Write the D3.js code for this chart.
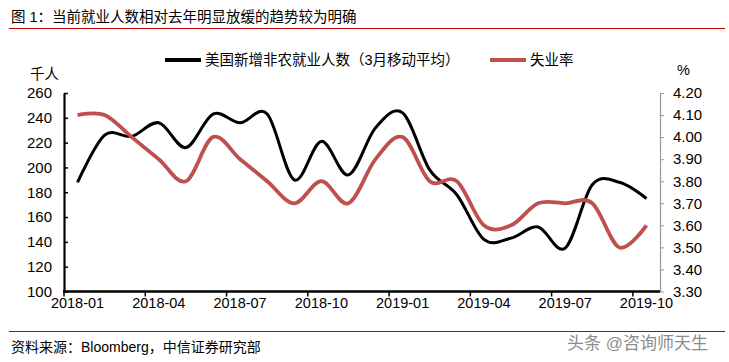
<!DOCTYPE html>
<html>
<head>
<meta charset="utf-8">
<script src="https://cdn.jsdelivr.net/npm/d3@7"></script>
<style>
  body { margin: 0; background: #fff; }
  svg text { font-family: "Liberation Sans", Arial, "Noto Sans CJK SC", sans-serif; fill: #000; }
</style>
</head>
<body>
<div id="chart"></div>
<script>
// monthly categories 2018-01 .. 2019-10
var months = ["2018-01","2018-02","2018-03","2018-04","2018-05","2018-06","2018-07","2018-08",
  "2018-09","2018-10","2018-11","2018-12","2019-01","2019-02","2019-03","2019-04","2019-05",
  "2019-06","2019-07","2019-08","2019-09","2019-10"];
var tickMonths = ["2018-01","2018-04","2018-07","2018-10","2019-01","2019-04","2019-07","2019-10"];

// 美国新增非农就业人数（3月移动平均），千人
var payrolls = [188, 226, 225, 236, 216, 243, 236, 243, 190, 221, 194, 232, 244, 198, 178, 142, 143, 152, 135, 186, 188, 175];
// 失业率, %
var unemp = [4.1, 4.1, 4.0, 3.9, 3.8, 4.0, 3.9, 3.8, 3.7, 3.8, 3.7, 3.9, 4.0, 3.8, 3.8, 3.6, 3.6, 3.7, 3.7, 3.7, 3.5, 3.6];

var leftTicks = [100,120,140,160,180,200,220,240,260];
var rightTicks = [3.3,3.4,3.5,3.6,3.7,3.8,3.9,4.0,4.1,4.2];

var W = 729, H = 362;
var plot = {left: 64, right: 660, top: 93, bottom: 291.5};

var svg = d3.select("#chart").append("svg")
    .attr("width", W)
    .attr("height", H);

// title + red rules
svg.append("text")
    .attr("x", 11).attr("y", 22)
    .style("font-size", "14.5px")
    .text("图 1：当前就业人数相对去年明显放缓的趋势较为明确");
svg.append("line")
    .attr("x1", 9).attr("x2", 725).attr("y1", 28.5).attr("y2", 28.5)
    .attr("stroke", "#c00000").attr("stroke-width", 1);
svg.append("line")
    .attr("x1", 9).attr("x2", 725).attr("y1", 331.5).attr("y2", 331.5)
    .attr("stroke", "#c00000").attr("stroke-width", 1);
svg.append("text")
    .attr("x", 11).attr("y", 352)
    .style("font-size", "14px")
    .text("资料来源：Bloomberg，中信证券研究部");
svg.append("text")
    .attr("x", 567).attr("y", 349)
    .style("font-size", "17px")
    .style("fill", "#8c8c8c")
    .text("头条 @咨询师天生");

var x = d3.scaleBand().domain(months).range([plot.left, plot.right]);
var yL = d3.scaleLinear().domain([100, 260]).range([plot.bottom, plot.top]);
var yR = d3.scaleLinear().domain([3.3, 4.2]).range([plot.bottom, plot.top]);

function cx(i) { return x(months[i]) + x.bandwidth() / 2; }

// left axis
var gL = svg.append("g")
    .attr("transform", "translate(" + plot.left + ",0)")
    .call(d3.axisLeft(yL).tickValues(leftTicks).tickSizeInner(-4).tickSizeOuter(0).tickPadding(12));
gL.select(".domain").attr("stroke", "#000").attr("stroke-width", 2.2);
gL.selectAll(".tick line").attr("stroke", "#000").attr("stroke-width", 1.5);
gL.selectAll(".tick text").style("font-size", "15px").style("font-family", null);

// right axis
var gR = svg.append("g")
    .attr("transform", "translate(" + plot.right + ",0)")
    .call(d3.axisRight(yR).tickValues(rightTicks).tickFormat(d3.format(".2f")).tickSizeInner(4).tickSizeOuter(0).tickPadding(9));
gR.select(".domain").attr("stroke", "#999").attr("stroke-width", 1.2);
gR.selectAll(".tick line").attr("stroke", "#999");
gR.selectAll(".tick text").style("font-size", "15px").style("font-family", null);

// unit labels
svg.append("text").attr("x", 30).attr("y", 79).style("font-size", "14.5px").text("千人");
svg.append("text").attr("x", 677).attr("y", 75).style("font-size", "14.5px").text("%");

// x axis: ticks at category boundaries, labels at category centres
var gX = svg.append("g");
gX.selectAll(".xt").data(tickMonths).enter().append("line")
    .attr("x1", function(d) { return x(d); })
    .attr("x2", function(d) { return x(d); })
    .attr("y1", plot.bottom).attr("y2", plot.bottom + 5)
    .attr("stroke", "#000").attr("stroke-width", 1.5);
gX.selectAll(".xl").data(tickMonths).enter().append("text")
    .attr("x", function(d) { return x(d) + x.bandwidth() / 2; })
    .attr("y", 308)
    .attr("text-anchor", "middle")
    .style("font-size", "14.5px")
    .text(function(d) { return d; });

// lines
var lineL = d3.line()
    .x(function(d, i) { return cx(i); })
    .y(function(d) { return yL(d); })
    .curve(d3.curveCardinal.tension(0));
var lineR = d3.line()
    .x(function(d, i) { return cx(i); })
    .y(function(d) { return yR(d); })
    .curve(d3.curveCardinal.tension(0));

svg.append("path").datum(payrolls)
    .attr("d", lineL)
    .attr("fill", "none").attr("stroke", "#000").attr("stroke-width", 3);
svg.append("path").datum(unemp)
    .attr("d", lineR)
    .attr("fill", "none").attr("stroke", "#c0504d").attr("stroke-width", 3.8);

// x axis line drawn on top
svg.append("line")
    .attr("x1", plot.left - 1).attr("x2", plot.right)
    .attr("y1", plot.bottom).attr("y2", plot.bottom)
    .attr("stroke", "#000").attr("stroke-width", 2.5);

// legend
var legend = [
  {name: "美国新增非农就业人数（3月移动平均）", color: "#000", x: 165},
  {name: "失业率", color: "#c0504d", x: 490}
];
var lg = svg.selectAll(".legend").data(legend).enter().append("g")
    .attr("transform", function(d) { return "translate(" + d.x + ",60)"; });
lg.append("line")
    .attr("x1", 0).attr("x2", 36).attr("y1", 0).attr("y2", 0)
    .attr("stroke", function(d) { return d.color; })
    .attr("stroke-width", 4);
lg.append("text")
    .attr("x", 40).attr("y", 5)
    .style("font-size", "14.5px")
    .text(function(d) { return d.name; });
</script>
</body>
</html>
